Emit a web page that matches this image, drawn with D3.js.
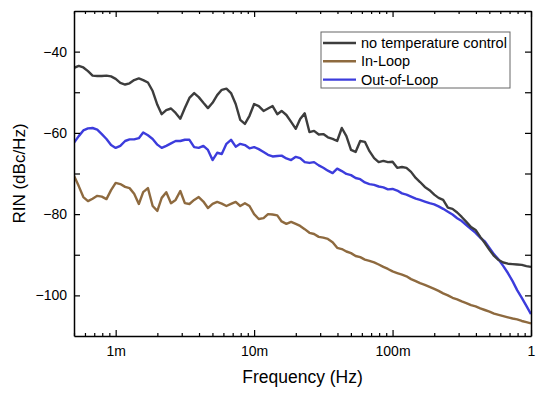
<!DOCTYPE html>
<html>
<head>
<meta charset="utf-8">
<script src="https://cdn.jsdelivr.net/npm/d3@7"></script>
<style>
  body { margin: 0; background: #fff; }
  svg { display: block; font-family: "Liberation Sans", Arial, sans-serif; }
  .axis path, .axis line { stroke: #000; }
</style>
</head>
<body>
<svg id="chart" width="550" height="397"></svg>
<script>
// measured frequencies (Hz), shared by all three traces
const frequency = [
  5.01e-4, 5.41e-4, 5.84e-4, 6.31e-4, 6.81e-4, 7.36e-4, 7.94e-4, 8.58e-4, 9.26e-4,
  1.00e-3, 1.08e-3, 1.17e-3, 1.26e-3, 1.36e-3, 1.47e-3, 1.58e-3, 1.71e-3, 1.85e-3, 2.00e-3,
  2.15e-3, 2.32e-3, 2.51e-3, 2.71e-3, 2.93e-3, 3.16e-3, 3.41e-3, 3.69e-3, 3.98e-3, 4.30e-3,
  4.64e-3, 5.01e-3, 5.41e-3, 5.84e-3, 6.31e-3, 6.81e-3, 7.36e-3, 7.94e-3, 8.58e-3, 9.26e-3,
  1.00e-2, 1.08e-2, 1.17e-2, 1.26e-2, 1.36e-2, 1.47e-2, 1.58e-2, 1.71e-2, 1.85e-2, 2.00e-2,
  2.15e-2, 2.32e-2, 2.51e-2, 2.71e-2, 2.93e-2, 3.16e-2, 3.41e-2, 3.69e-2, 3.98e-2, 4.30e-2,
  4.64e-2, 5.01e-2, 5.41e-2, 5.84e-2, 6.31e-2, 6.81e-2, 7.36e-2, 7.94e-2, 8.58e-2, 9.26e-2,
  1.00e-1, 1.08e-1, 1.17e-1, 1.26e-1, 1.36e-1, 1.47e-1, 1.58e-1, 1.71e-1, 1.85e-1, 2.00e-1,
  2.15e-1, 2.32e-1, 2.51e-1, 2.71e-1, 2.93e-1, 3.16e-1, 3.41e-1, 3.69e-1, 3.98e-1, 4.30e-1,
  4.64e-1, 5.01e-1, 5.41e-1, 5.84e-1, 6.31e-1, 6.81e-1, 7.36e-1, 7.94e-1, 8.58e-1, 9.26e-1,
  1.00
]

// RIN in dBc/Hz
const noControl = [
  -44.0, -43.5, -43.9, -44.8, -45.9, -46.0, -46.0, -45.9, -46.1,
  -46.7, -47.7, -48.1, -47.8, -47.0, -46.6, -47.0, -47.6, -49.7, -53.1,
  -55.4, -54.4, -54.0, -55.1, -56.5, -53.9, -51.4, -50.2, -51.2, -52.6,
  -53.9, -52.6, -50.7, -49.4, -49.1, -50.2, -52.9, -56.8, -57.8, -55.8,
  -52.9, -53.4, -54.6, -54.0, -53.4, -55.4, -54.6, -55.6, -57.3, -59.0,
  -56.6, -55.2, -59.8, -59.5, -60.4, -60.3, -61.1, -61.5, -62.0, -58.8,
  -60.8, -64.2, -64.7, -62.0, -62.2, -64.5, -66.2, -67.2, -66.9, -67.2,
  -67.1, -68.6, -68.4, -68.6, -69.6, -71.1, -72.1, -73.3, -74.1, -75.2,
  -76.0, -76.5, -78.4, -78.7, -79.6, -80.7, -81.9, -83.2, -83.9, -85.6,
  -87.1, -88.8, -90.3, -91.3, -91.9, -92.2, -92.3, -92.4, -92.5, -92.8,
  -93.0
]

const inLoop = [
  -70.6, -73.1, -75.8, -76.8, -76.2, -75.5, -75.7, -76.3, -74.1,
  -72.3, -72.6, -73.3, -73.6, -75.0, -77.5, -74.6, -73.6, -78.0, -79.2,
  -76.0, -74.6, -77.3, -76.5, -74.3, -77.3, -77.5, -76.5, -75.8, -76.9,
  -78.5, -77.5, -77.0, -77.4, -78.0, -77.5, -77.0, -78.0, -77.3, -78.0,
  -80.0, -81.2, -81.0, -80.0, -80.1, -80.3, -81.8, -82.4, -81.9, -82.4,
  -82.9, -83.7, -84.6, -84.9, -85.6, -85.8, -86.1, -86.9, -88.3, -88.6,
  -89.2, -89.6, -90.3, -90.6, -91.2, -91.5, -91.9, -92.4, -93.0, -93.5,
  -94.1, -94.5, -94.9, -95.3, -96.0, -96.5, -97.0, -97.4, -97.9, -98.4,
  -98.9, -99.5, -100.0, -100.6, -101.0, -101.5, -101.9, -102.4, -102.7, -103.2,
  -103.6, -104.0, -104.5, -104.8, -105.1, -105.4, -105.7, -105.9, -106.3, -106.6,
  -106.9
]

const outOfLoop = [
  -62.4, -60.8, -59.4, -58.9, -58.8, -59.2, -60.3, -61.5, -63.0,
  -63.7, -63.2, -62.0, -61.6, -61.6, -61.3, -59.9, -60.6, -61.5, -62.9,
  -63.7, -63.2, -62.6, -62.0, -62.0, -61.7, -61.7, -63.5, -63.7, -63.2,
  -64.2, -66.7, -64.9, -65.2, -62.7, -61.7, -63.4, -62.7, -63.0, -63.8,
  -63.5, -64.0, -64.7, -65.4, -65.8, -65.7, -65.6, -66.3, -66.7, -65.9,
  -66.2, -67.2, -67.4, -67.2, -68.0, -68.6, -69.3, -69.9, -68.8, -69.4,
  -70.1, -70.4, -71.1, -71.4, -72.2, -72.6, -72.8, -73.2, -73.4, -73.9,
  -73.8, -74.2, -74.9, -75.2, -75.7, -76.2, -76.5, -76.9, -77.3, -77.6,
  -78.1, -78.7, -79.4, -80.1, -81.0, -81.7, -82.7, -83.7, -84.6, -85.8,
  -86.7, -88.3, -89.9, -91.2, -92.8, -94.5, -96.5, -98.7, -100.6, -102.6,
  -104.6
]

const seriesNames = ["no temperature control", "In-Loop", "Out-of-Loop"]
const seriesColors = ["#3d3d3d", "#8e6a3f", "#3c3cdc"]

const xMajor = [1e-3, 1e-2, 1e-1, 1]
const xLabels = ["1m", "10m", "100m", "1"]
const yMajor = [-100, -80, -60, -40]
const yMinor = [-90, -70, -50]

const margin = {top: 11, right: 19, bottom: 61, left: 74}
const width = 550 - margin.left - margin.right
const height = 397 - margin.top - margin.bottom

const svg = d3.select("#chart")
const g = svg.append("g")
  .attr("transform", "translate(" + margin.left + "," + margin.top + ")")

const x = d3.scaleLog().domain([5e-4, 1]).range([0, width])
const y = d3.scaleLinear().domain([-110, -30]).range([height, 0])

// minor log ticks: 2..9 of each decade inside the domain
const xMinor = x.ticks().filter(d => xMajor.indexOf(d) < 0 && d >= 5e-4)

const fmtY = d => (d < 0 ? "\u2212" + Math.abs(d) : "" + d)

// curves
const traces = [noControl, inLoop, outOfLoop]
const line = d3.line()
  .x(d => x(d[0]))
  .y(d => y(d[1]))

g.append("defs").append("clipPath").attr("id", "clip")
  .append("rect").attr("width", width).attr("height", height)

// draw order: blue, black, brown so black sits over blue at the crossing
;[2, 0, 1].forEach(i => {
  g.append("path")
    .datum(frequency.map((f, k) => [f, traces[i][k]]))
    .attr("clip-path", "url(#clip)")
    .attr("fill", "none")
    .attr("stroke", seriesColors[i])
    .attr("stroke-width", 2.4)
    .attr("stroke-linejoin", "round")
    .attr("d", line)
})

// axes, ticks pointing inward
function styleAxis(sel) {
  sel.select(".domain").attr("stroke-width", 1.5)
  sel.selectAll(".tick line").attr("stroke-width", 1.2)
  sel.selectAll("text").attr("font-size", 14).attr("fill", "#000")
}

g.append("g").attr("class", "axis")
  .attr("transform", "translate(0," + height + ")")
  .call(d3.axisBottom(x).tickValues(xMajor).tickFormat((d, i) => xLabels[i])
    .tickSizeInner(-6).tickSizeOuter(0).tickPadding(10))
  .call(styleAxis)
g.append("g").attr("class", "axis")
  .attr("transform", "translate(0," + height + ")")
  .call(d3.axisBottom(x).tickValues(xMinor).tickFormat("").tickSizeInner(-3).tickSizeOuter(0))
  .call(s => s.select(".domain").remove())
  .call(styleAxis)

g.append("g").attr("class", "axis")
  .call(d3.axisTop(x).tickValues(xMajor).tickFormat("").tickSizeInner(-6).tickSizeOuter(0))
  .call(styleAxis)
g.append("g").attr("class", "axis")
  .call(d3.axisTop(x).tickValues(xMinor).tickFormat("").tickSizeInner(-3).tickSizeOuter(0))
  .call(s => s.select(".domain").remove())
  .call(styleAxis)

g.append("g").attr("class", "axis")
  .call(d3.axisLeft(y).tickValues(yMajor).tickFormat(fmtY)
    .tickSizeInner(-6).tickSizeOuter(0).tickPadding(7))
  .call(styleAxis)
g.append("g").attr("class", "axis")
  .call(d3.axisLeft(y).tickValues(yMinor).tickFormat("").tickSizeInner(-6).tickSizeOuter(0))
  .call(s => s.select(".domain").remove())
  .call(styleAxis)

g.append("g").attr("class", "axis")
  .attr("transform", "translate(" + width + ",0)")
  .call(d3.axisRight(y).tickValues(yMajor.concat(yMinor)).tickFormat("")
    .tickSizeInner(-6).tickSizeOuter(0))
  .call(styleAxis)

// axis titles
svg.append("text")
  .attr("x", margin.left + width / 2)
  .attr("y", 383)
  .attr("text-anchor", "middle")
  .attr("font-size", 17.5)
  .text("Frequency (Hz)")

svg.append("text")
  .attr("transform", "translate(25," + (margin.top + height / 2) + ") rotate(-90)")
  .attr("text-anchor", "middle")
  .attr("font-size", 17)
  .text("RIN (dBc/Hz)")

// legend
const legend = svg.append("g").attr("transform", "translate(321,32)")
legend.append("rect")
  .attr("width", 189).attr("height", 56)
  .attr("fill", "#fff").attr("stroke", "#666").attr("stroke-width", 1)
seriesNames.forEach((name, i) => {
  const row = legend.append("g").attr("transform", "translate(0," + (11 + i * 18.3) + ")")
  row.append("line")
    .attr("x1", 2).attr("x2", 35)
    .attr("stroke", seriesColors[i]).attr("stroke-width", 2.4)
  row.append("text")
    .attr("x", 40).attr("dy", "0.35em")
    .attr("font-size", 14.5)
    .text(name)
})
</script>
</body>
</html>
